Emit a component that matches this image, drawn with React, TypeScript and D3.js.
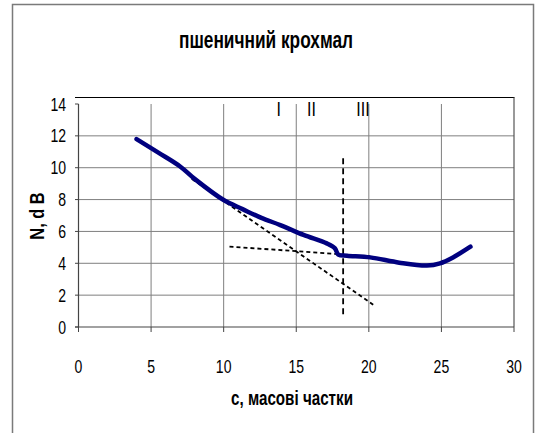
import React from "react";
import * as d3 from "d3";

const curveX = [4, 5.5, 7, 8.0, 10, 11.3, 12.6, 13.9, 15.5, 17.1, 17.65, 17.9, 18.5, 20.1, 22.1, 24.0, 24.9, 25.8, 27.0];
const curveY = [11.8, 10.95, 10.08, 9.3, 7.97, 7.4, 6.85, 6.4, 5.78, 5.25, 4.95, 4.55, 4.48, 4.37, 4.04, 3.86, 4.0, 4.37, 5.04];

const tangent1X = [7.8, 20.3];
const tangent1Y = [9.3, 1.4];
const tangent2X = [10.4, 18.3];
const tangent2Y = [5.05, 4.55];
const verticalX = [18.23, 18.23];
const verticalY = [10.6, 0.75];

const xTicks = [0, 5, 10, 15, 20, 25, 30];
const yTicks = [0, 2, 4, 6, 8, 10, 12, 14];
const regionLabels = ["I", "II", "III"];
const regionX = [13.8, 16.05, 19.6];

const title = "пшеничний крохмал";
const xTitle = "c, масові частки";
const yTitle = "N, d B";

const W = 537;
const H = 433;
const font = "'Liberation Sans', Arial, sans-serif";

type NTProps = {
  x: number;
  y: number;
  size: number;
  sx?: number;
  anchor?: "start" | "middle" | "end";
  bold?: boolean;
  rotate?: number;
  children: React.ReactNode;
};

function NText({ x, y, size, sx = 0.8, anchor = "middle", bold = false, rotate = 0, children }: NTProps) {
  return (
    <g transform={`translate(${x},${y}) rotate(${rotate}) scale(${sx},1)`}>
      <text x={0} y={0} textAnchor={anchor} fontSize={size} fontWeight={bold ? "bold" : "normal"} fill="#000">
        {children}
      </text>
    </g>
  );
}

export default function App() {
  const x = d3.scaleLinear().domain([0, 30]).range([78.5, 514]);
  const y = d3.scaleLinear().domain([0, 14]).range([327, 104]);
  const line = d3
    .line<[number, number]>()
    .x((d) => x(d[0]))
    .y((d) => y(d[1]))
    .curve(d3.curveCatmullRom.alpha(0.5));
  const straight = d3
    .line<[number, number]>()
    .x((d) => x(d[0]))
    .y((d) => y(d[1]));
  const pts = curveX.map((v, i) => [v, curveY[i]] as [number, number]);
  const t1 = tangent1X.map((v, i) => [v, tangent1Y[i]] as [number, number]);
  const t2 = tangent2X.map((v, i) => [v, tangent2Y[i]] as [number, number]);
  const vl = verticalX.map((v, i) => [v, verticalY[i]] as [number, number]);

  return (
    <svg
      width={W}
      height={H}
      style={{ position: "fixed", left: 0, top: 0, background: "#fff" }}
      fontFamily={font}
    >
      <rect x={0} y={0} width={W} height={H} fill="#fff" />
      <rect x={12.5} y={4.5} width={521} height={440} fill="none" stroke="#7a7a7a" strokeWidth={1.5} />
      <NText x={266} y={48} size={24} sx={0.72} bold>
        {title}
      </NText>
      {/* horizontal gridlines */}
      {yTicks
        .filter((t) => t > 0 && t < 14)
        .map((t) => (
          <line key={"h" + t} x1={x(0)} x2={x(30)} y1={y(t)} y2={y(t)} stroke="#7f7f7f" strokeWidth={1} />
        ))}
      {/* vertical gridlines */}
      {xTicks
        .filter((t) => t > 0 && t < 30)
        .map((t) => (
          <line key={"v" + t} x1={x(t)} x2={x(t)} y1={y(14)} y2={y(0)} stroke="#7f7f7f" strokeWidth={1} />
        ))}
      {/* plot border top and right */}
      <line x1={75} x2={x(30) + 0.5} y1={97.5} y2={97.5} stroke="#000" strokeWidth={1.2} />
      <line x1={x(30)} x2={x(30)} y1={97.5} y2={y(0)} stroke="#555" strokeWidth={1.2} />
      {/* axes */}
      <line x1={x(0)} x2={x(0)} y1={y(14)} y2={y(0)} stroke="#444" strokeWidth={1.2} />
      <line x1={75} x2={x(30)} y1={y(0)} y2={y(0)} stroke="#444" strokeWidth={1.2} />
      {yTicks.map((t) => (
        <g key={"yt" + t}>
          <line x1={75} x2={x(0)} y1={y(t)} y2={y(t)} stroke="#444" strokeWidth={1} />
          <NText x={66} y={y(t) + 6.5} size={18} sx={0.78} anchor="end">
            {t}
          </NText>
        </g>
      ))}
      {xTicks.map((t) => (
        <g key={"xt" + t}>
          <line x1={x(t)} x2={x(t)} y1={y(0)} y2={y(0) + 5} stroke="#444" strokeWidth={1} />
          <NText x={x(t)} y={373} size={18} sx={0.78}>
            {t}
          </NText>
        </g>
      ))}
      {regionLabels.map((r, i) => (
        <NText key={r} x={x(regionX[i])} y={116} size={20} sx={0.8}>
          {r}
        </NText>
      ))}
      {/* dashed lines */}
      <path d={straight(t1) || ""} fill="none" stroke="#000" strokeWidth={1.8} strokeDasharray="4 3" />
      <path d={straight(t2) || ""} fill="none" stroke="#000" strokeWidth={1.8} strokeDasharray="4 3" />
      <path d={straight(vl) || ""} fill="none" stroke="#000" strokeWidth={1.8} strokeDasharray="6 4" />
      {/* main curve */}
      <path d={line(pts) || ""} fill="none" stroke="#00007f" strokeWidth={4.5} strokeLinecap="round" strokeLinejoin="round" />
      <NText x={292} y={405} size={20} sx={0.76} bold>
        {xTitle}
      </NText>
      <NText x={43.5} y={216} size={20} sx={0.82} bold rotate={-90}>
        {yTitle}
      </NText>
    </svg>
  );
}
